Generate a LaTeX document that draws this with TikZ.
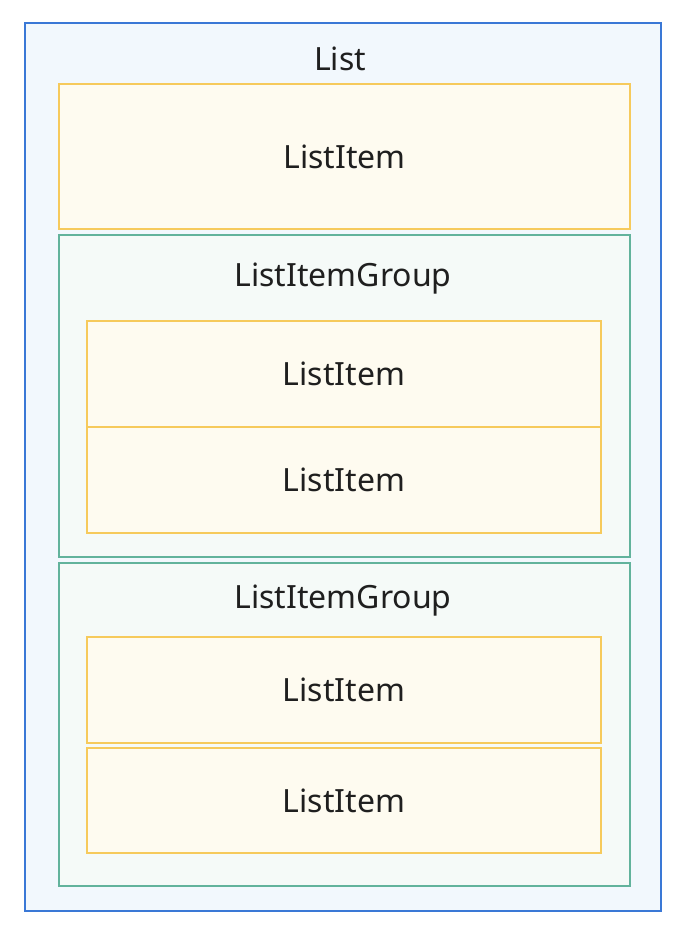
\documentclass[tikz,border=0pt]{standalone}
\usepackage{fontspec}
\setmainfont{Noto Sans}
\usepackage{tikz}
\usetikzlibrary{positioning}

\definecolor{listblue}{HTML}{3A78D6}
\definecolor{listfill}{HTML}{F2F8FD}
\definecolor{itemyellow}{HTML}{F6CA5C}
\definecolor{itemfill}{HTML}{FEFBF0}
\definecolor{groupgreen}{HTML}{62B39C}
\definecolor{groupfill}{HTML}{F5FAF8}

\tikzset{
  listbox/.style={draw=listblue, fill=listfill, line width=1.5pt, inner sep=0pt},
  itembox/.style={draw=itemyellow, fill=itemfill, line width=2pt, inner sep=0pt},
  groupbox/.style={draw=groupgreen, fill=groupfill, line width=2pt, inner sep=0pt},
  lbl/.style={font=\fontsize{32}{38}\selectfont, text=black!88}
}

\begin{document}
\begin{tikzpicture}[x=1pt,y=-1pt]
\useasboundingbox [fill=white] (0,0) rectangle (694,932);

\node [listbox, minimum width=636pt, minimum height=888pt] (list) at (343,467) {};
\node [lbl] (listlbl) at (340,59) {List};

\node [itembox, minimum width=571pt, minimum height=145pt] (item1) at (344.5,156.5) {};
\node [lbl] at (item1) {ListItem};

\node [groupbox, minimum width=571pt, minimum height=322pt] (group1) at (344.5,396) {};
\node [lbl] (group1lbl) at (343,279) {ListItemGroup};
\node [itembox, minimum width=514pt, minimum height=106pt] (item2) at (344,374) {};
\node [lbl] at (item2) {ListItem};
\node [itembox, minimum width=514pt, minimum height=106pt] (item3) at (344,480) {};
\node [lbl] at (item3) {ListItem};

\node [groupbox, minimum width=571pt, minimum height=323pt] (group2) at (344.5,724.5) {};
\node [lbl] (group2lbl) at (343,601) {ListItemGroup};
\node [itembox, minimum width=514pt, minimum height=106pt] (item4) at (344,690) {};
\node [lbl] at (item4) {ListItem};
\node [itembox, minimum width=514pt, minimum height=105pt] (item5) at (344,800.5) {};
\node [lbl] at (item5) {ListItem};

\end{tikzpicture}
\end{document}
